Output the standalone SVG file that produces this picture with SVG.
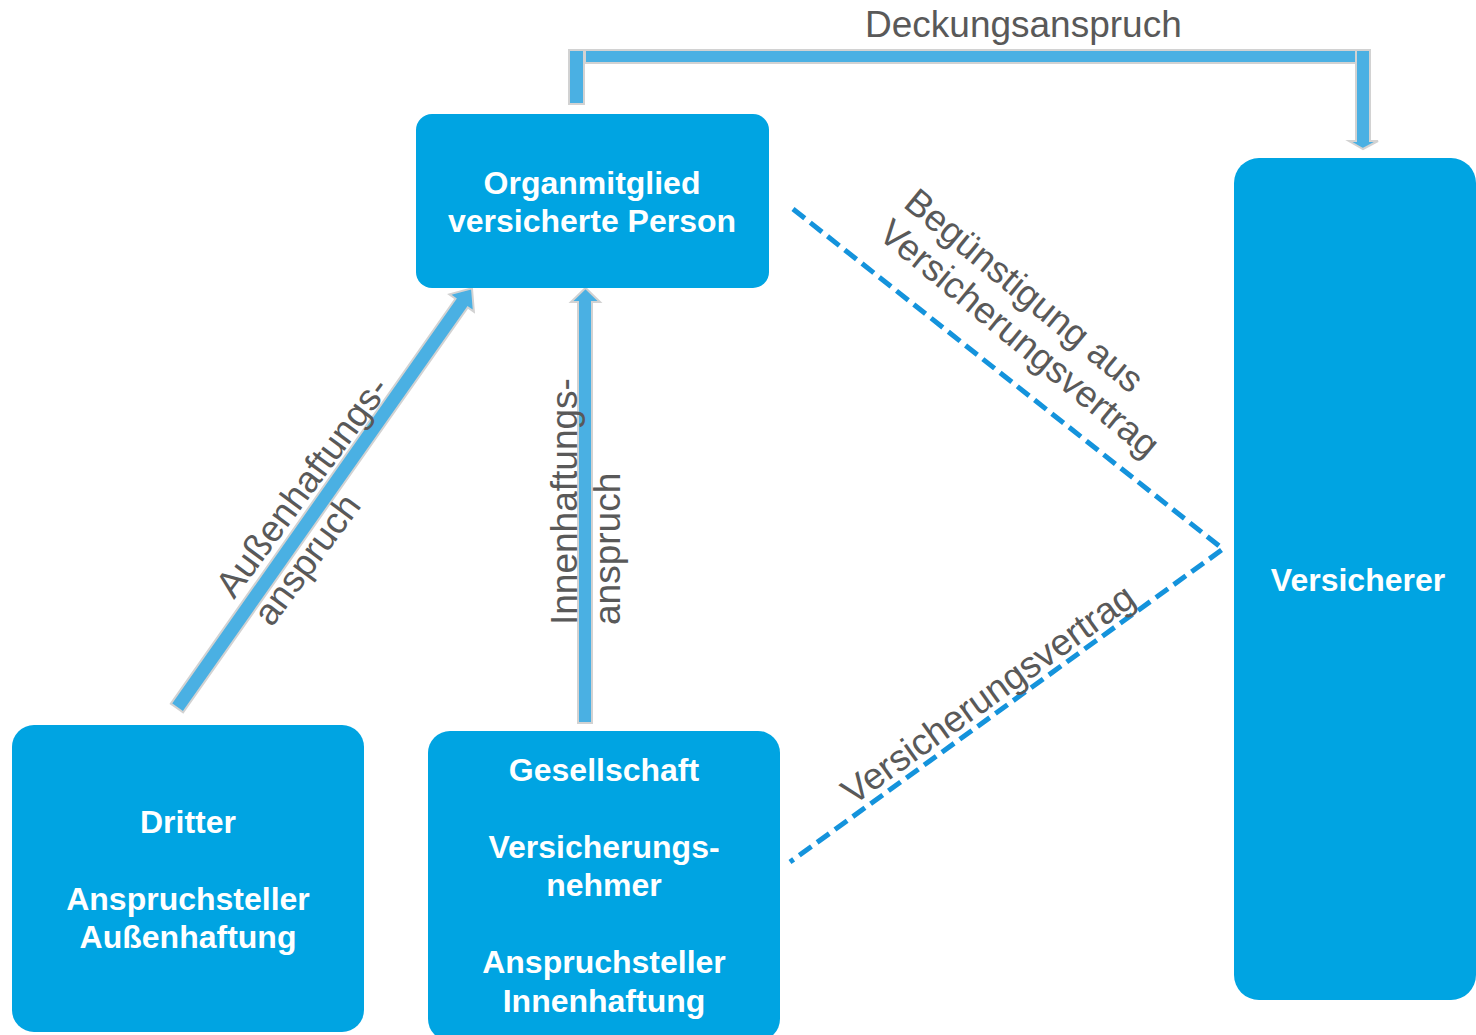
<svg xmlns="http://www.w3.org/2000/svg" width="1476" height="1035" viewBox="0 0 1476 1035">
<style>
.box{fill:#00a4e2}
.nt{font-family:"Liberation Sans",Arial,sans-serif;font-weight:bold;font-size:32px;fill:#ffffff;text-anchor:middle}
.lbl{font-family:"Liberation Sans",Arial,sans-serif;font-size:37px;fill:#595959}
.arr{fill:#4ab0e3;stroke:#d2d2d2;stroke-width:2}
.dash{fill:none;stroke:#1493dc;stroke-width:5;stroke-dasharray:15 7}
</style>
<rect width="1476" height="1035" fill="#ffffff"/>
<g id="connectors">
  <g id="deckungsanspruch">
    <rect class="arr" x="569" y="50" width="15" height="54"/>
    <rect class="arr" x="585" y="50" width="772" height="13"/>
    <polygon class="arr" points="1356,50 1370,50 1370,141 1378,141 1363,149 1349,141 1356,141"/>
  </g>
  <polygon id="innenhaftung" class="arr" points="578,723 592,723 592,302 600,302 585.5,288 571,302 578,302"/>
  <polygon id="aussenhaftung" class="arr" transform="translate(177,708) rotate(-54.9)" points="0,-7.5 495,-7.5 495,-15 513,0 495,15 495,7.5 0,7.5"/>
  <polyline id="versicherungsvertrag" class="dash" points="793,209 1223,549 790,862"/>
  <text class="lbl" x="865" y="37">Deckungsanspruch</text>
  <g transform="translate(234,600) rotate(-53.5)">
    <text class="lbl" x="0" y="0">Außenhaftungs-</text>
    <text class="lbl" x="0" y="47">anspruch</text>
  </g>
  <g transform="translate(577,625) rotate(-90)">
    <text class="lbl" x="0" y="0">Innenhaftungs-</text>
    <text class="lbl" x="0" y="43">anspruch</text>
  </g>
  <g transform="translate(902,206) rotate(39.5)">
    <text class="lbl" x="0" y="0">Begünstigung aus</text>
    <text class="lbl" x="0" y="40">Versicherungsvertrag</text>
  </g>
  <text class="lbl" transform="translate(853,806) rotate(-35.5)">Versicherungsvertrag</text>
</g>
<g id="organmitglied">
  <rect class="box" x="416" y="114" width="353" height="174" rx="16"/>
  <text class="nt" x="592" y="194">Organmitglied</text>
  <text class="nt" x="592" y="232">versicherte Person</text>
</g>
<g id="dritter">
  <rect class="box" x="12" y="725" width="352" height="307" rx="22"/>
  <text class="nt" x="188" y="833">Dritter</text>
  <text class="nt" x="188" y="910">Anspruchsteller</text>
  <text class="nt" x="188" y="948">Außenhaftung</text>
</g>
<g id="gesellschaft">
  <rect class="box" x="428" y="731" width="352" height="310" rx="22"/>
  <text class="nt" x="604" y="781">Gesellschaft</text>
  <text class="nt" x="604" y="858">Versicherungs-</text>
  <text class="nt" x="604" y="896">nehmer</text>
  <text class="nt" x="604" y="973">Anspruchsteller</text>
  <text class="nt" x="604" y="1012">Innenhaftung</text>
</g>
<g id="versicherer">
  <rect class="box" x="1234" y="158" width="242" height="842" rx="25"/>
  <text class="nt" x="1358" y="591">Versicherer</text>
</g>
</svg>
